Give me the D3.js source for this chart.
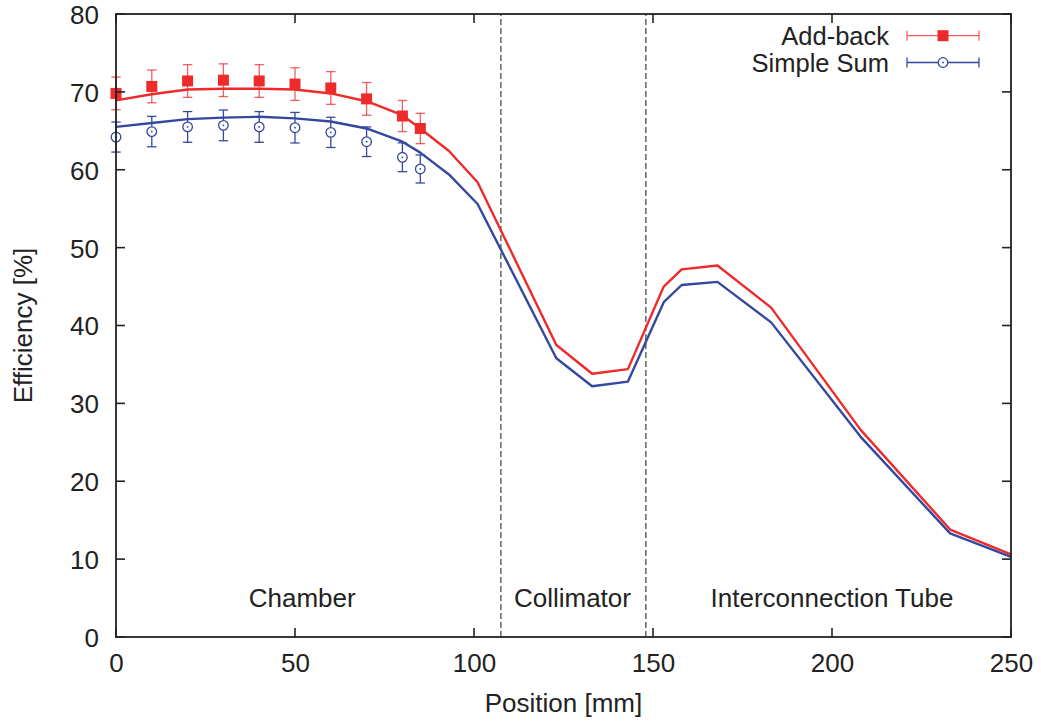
<!DOCTYPE html>
<html>
<head>
<meta charset="utf-8">
<script src="https://cdn.jsdelivr.net/npm/d3@7"></script>
<style>
  html, body { margin: 0; padding: 0; background: #fff; }
  svg { display: block; font-family: "Liberation Sans", Arial, Helvetica, sans-serif; }
</style>
</head>
<body>
<svg id="chart" width="1041" height="722"></svg>
<script>
// ---- Data ----
const measX = [0, 10, 20, 30, 40, 50, 60, 70, 80, 85];
const addbackMeas = [69.8, 70.7, 71.4, 71.5, 71.4, 71.0, 70.5, 69.1, 66.9, 65.3];
const addbackErr  = [2.1, 2.1, 2.1, 2.1, 2.1, 2.1, 2.1, 2.1, 2.0, 1.95];
const simpleMeas  = [64.2, 64.9, 65.5, 65.7, 65.5, 65.4, 64.8, 63.6, 61.6, 60.1];
const simpleErr   = [1.93, 1.95, 1.97, 1.97, 1.97, 1.96, 1.94, 1.9, 1.85, 1.8];

const simX = [0, 10, 20, 30, 40, 50, 60, 70, 80, 85, 93, 101, 123, 133, 143, 153, 158, 168, 183, 208, 233, 250];
const addbackSim = [68.9, 69.7, 70.3, 70.4, 70.4, 70.3, 69.8, 68.8, 67.0, 65.3, 62.4, 58.4, 37.5, 33.8, 34.4, 45.0, 47.2, 47.7, 42.3, 26.6, 13.8, 10.6];
const simpleSim  = [65.5, 66.0, 66.5, 66.7, 66.8, 66.6, 66.2, 65.3, 63.6, 62.2, 59.4, 55.6, 35.8, 32.2, 32.8, 43.0, 45.2, 45.6, 40.4, 25.7, 13.3, 10.3];

const xTicks = [0, 50, 100, 150, 200, 250];
const yTicks = [0, 10, 20, 30, 40, 50, 60, 70, 80];
const boundaries = [107.5, 148];
const regionNames = ["Chamber", "Collimator", "Interconnection Tube"];
const regionCenters = [52, 127.5, 200];
const seriesNames = ["Add-back", "Simple Sum"];

// ---- Layout ----
const W = 1041, H = 722;
const m = { left: 116, right: 30, top: 14, bottom: 85 };
const RED = "#ee2a2a", BLUE = "#3548a0";
const FS = 26;

const svg = d3.select("#chart");
const x = d3.scaleLinear().domain([0, 250]).range([m.left, W - m.right]);
const y = d3.scaleLinear().domain([0, 80]).range([H - m.bottom, m.top]);

// dashed boundaries
svg.append("g").selectAll("line").data(boundaries).join("line")
  .attr("x1", d => x(d)).attr("x2", d => x(d))
  .attr("y1", y(0)).attr("y2", y(80))
  .attr("stroke", "#666").attr("stroke-width", 1.5)
  .attr("stroke-dasharray", "6,3");

// region labels
svg.append("g").selectAll("text").data(regionNames).join("text")
  .attr("x", (d, i) => x(regionCenters[i])).attr("y", 607)
  .attr("text-anchor", "middle").attr("font-size", FS).attr("fill", "#222")
  .text(d => d);

// simulation lines
const line = d3.line().x(d => x(d[0])).y(d => y(d[1]));
svg.append("path").datum(simX.map((v, i) => [v, addbackSim[i]]))
  .attr("d", line).attr("fill", "none").attr("stroke", RED).attr("stroke-width", 2.4)
  .attr("stroke-linejoin", "round");
svg.append("path").datum(simX.map((v, i) => [v, simpleSim[i]]))
  .attr("d", line).attr("fill", "none").attr("stroke", BLUE).attr("stroke-width", 2.4)
  .attr("stroke-linejoin", "round");

const cap = 4.7;
// simple sum error bars + circles
const gS = svg.append("g");
const R = 4.8;
measX.forEach((xv, i) => {
  const cx = x(xv), cy = y(simpleMeas[i]);
  const top = y(simpleMeas[i] + simpleErr[i]), bot = y(simpleMeas[i] - simpleErr[i]);
  const g = gS.append("g").attr("stroke", BLUE).attr("stroke-width", 1.3).attr("fill", "none");
  g.append("line").attr("x1", cx).attr("x2", cx).attr("y1", top).attr("y2", cy - R);
  g.append("line").attr("x1", cx).attr("x2", cx).attr("y1", cy + R).attr("y2", bot);
  g.append("line").attr("x1", cx - cap).attr("x2", cx + cap).attr("y1", top).attr("y2", top);
  g.append("line").attr("x1", cx - cap).attr("x2", cx + cap).attr("y1", bot).attr("y2", bot);
  g.append("circle").attr("cx", cx).attr("cy", cy).attr("r", R);
  gS.append("circle").attr("cx", cx).attr("cy", cy).attr("r", 0.9).attr("fill", BLUE);
});

// add-back error bars + squares
const gA = svg.append("g");
const S = 11;
measX.forEach((xv, i) => {
  const cx = x(xv), cy = y(addbackMeas[i]);
  const top = y(addbackMeas[i] + addbackErr[i]), bot = y(addbackMeas[i] - addbackErr[i]);
  const g = gA.append("g").attr("stroke", RED).attr("stroke-opacity", 0.75).attr("stroke-width", 1.3);
  g.append("line").attr("x1", cx).attr("x2", cx).attr("y1", top).attr("y2", bot);
  g.append("line").attr("x1", cx - cap).attr("x2", cx + cap).attr("y1", top).attr("y2", top);
  g.append("line").attr("x1", cx - cap).attr("x2", cx + cap).attr("y1", bot).attr("y2", bot);
  gA.append("rect").attr("x", cx - S / 2).attr("y", cy - S / 2).attr("width", S).attr("height", S).attr("fill", RED);
});

// frame + inward ticks (all four sides)
const TL = 9;
const frame = svg.append("g").attr("stroke", "#222").attr("stroke-width", 1.6);
xTicks.forEach(t => {
  frame.append("line").attr("x1", x(t)).attr("x2", x(t)).attr("y1", y(0)).attr("y2", y(0) - TL);
  frame.append("line").attr("x1", x(t)).attr("x2", x(t)).attr("y1", y(80)).attr("y2", y(80) + TL);
});
yTicks.forEach(t => {
  frame.append("line").attr("x1", x(0)).attr("x2", x(0) + TL).attr("y1", y(t)).attr("y2", y(t));
  frame.append("line").attr("x1", x(250)).attr("x2", x(250) - TL).attr("y1", y(t)).attr("y2", y(t));
});
svg.append("rect").attr("x", x(0)).attr("y", y(80)).attr("width", x(250) - x(0)).attr("height", y(0) - y(80))
  .attr("fill", "none").attr("stroke", "#222").attr("stroke-width", 1.8);

// tick labels via d3 axes (no domain/tick lines drawn)
const xAxis = svg.append("g").attr("transform", `translate(0,${y(0)})`)
  .call(d3.axisBottom(x).tickValues(xTicks).tickSize(0).tickPadding(0).tickFormat(d3.format("d")));
xAxis.select(".domain").remove();
xAxis.selectAll("text").attr("font-size", FS).attr("fill", "#222").attr("font-family", null)
  .attr("dy", null).attr("y", 35);
const yAxis = svg.append("g").attr("transform", `translate(${x(0)},0)`)
  .call(d3.axisLeft(y).tickValues(yTicks).tickSize(0).tickPadding(0).tickFormat(d3.format("d")));
yAxis.select(".domain").remove();
yAxis.selectAll("text").attr("font-size", FS).attr("fill", "#222").attr("font-family", null)
  .attr("x", -17).attr("dy", "0.36em");

// axis titles
svg.append("text").attr("x", (x(0) + x(250)) / 2).attr("y", 712)
  .attr("text-anchor", "middle").attr("font-size", FS).attr("fill", "#222").text("Position [mm]");
svg.append("text").attr("transform", `translate(32,${(y(0) + y(80)) / 2}) rotate(-90)`)
  .attr("text-anchor", "middle").attr("font-size", FS).attr("fill", "#222").text("Efficiency [%]");

// legend
const leg = svg.append("g");
const legRows = [35.7, 62.5];
const LFS = 25.5;
const lx1 = 907, lx2 = 979, lmx = 943;
seriesNames.forEach((name, i) => {
  const ly = legRows[i];
  leg.append("text").attr("x", 889).attr("y", ly).attr("dy", "0.36em")
    .attr("text-anchor", "end").attr("font-size", LFS).attr("fill", "#222").text(name);
  const col = i === 0 ? RED : BLUE;
  const g = leg.append("g").attr("stroke", col).attr("stroke-width", 1.3)
    .attr("stroke-opacity", i === 0 ? 0.75 : 1).attr("fill", "none");
  g.append("line").attr("x1", lx1).attr("x2", lx2).attr("y1", ly).attr("y2", ly);
  g.append("line").attr("x1", lx1).attr("x2", lx1).attr("y1", ly - 5).attr("y2", ly + 5);
  g.append("line").attr("x1", lx2).attr("x2", lx2).attr("y1", ly - 5).attr("y2", ly + 5);
  if (i === 0) {
    leg.append("rect").attr("x", lmx - 5.5).attr("y", ly - 5.5).attr("width", 11).attr("height", 11).attr("fill", RED);
  } else {
    leg.append("circle").attr("cx", lmx).attr("cy", ly).attr("r", R).attr("fill", "#fff")
      .attr("stroke", BLUE).attr("stroke-width", 1.3);
    leg.append("circle").attr("cx", lmx).attr("cy", ly).attr("r", 0.9).attr("fill", BLUE);
  }
});
</script>
</body>
</html>
